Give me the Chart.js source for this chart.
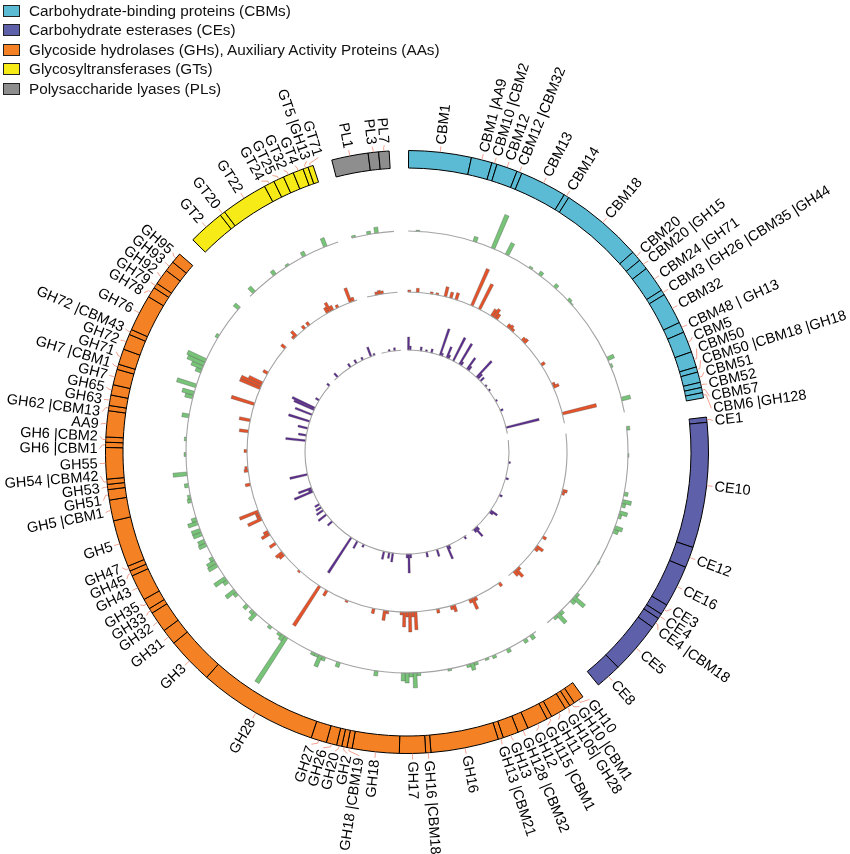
<!DOCTYPE html>
<html>
<head>
<meta charset="utf-8">
<script src="https://cdn.jsdelivr.net/npm/chart.js@4.4.1/dist/chart.umd.min.js"></script>
<style>
html,body{margin:0;padding:0;background:#fff;}
#wrap{position:relative;width:850px;height:854px;overflow:hidden;}
#c{position:absolute;left:0;top:0;}
#legend{position:absolute;left:3px;top:1px;font-family:"Liberation Sans",Arial,sans-serif;font-size:15.3px;color:#111;}
.li{display:flex;align-items:center;height:19.5px;white-space:nowrap;}
.sw{width:15px;height:10px;border:1px solid #222;margin-right:9px;}
</style>
</head>
<body>
<div id="wrap"><canvas id="c" width="850" height="854"></canvas><div id="legend"></div></div>
<script>
// ---------------- DATA ----------------
const groupLegend = ['Carbohydrate-binding proteins (CBMs)','Carbohydrate esterases (CEs)','Glycoside hydrolases (GHs), Auxiliary Activity Proteins (AAs)','Glycosyltransferases (GTs)','Polysaccharide lyases (PLs)'];
const groupColors = ['#5bbbd4','#5f60aa','#f48124','#f6eb16','#8e8e8e'];

const cbmFamilies = ['CBM1','CBM1 |AA9','CBM10 |CBM2','CBM12','CBM12 |CBM32','CBM13','CBM14','CBM18','CBM20','CBM20 |GH15','CBM24 |GH71','CBM3 |GH26 |CBM35 |GH44','CBM32','CBM48 | GH13','CBM5','CBM50','CBM50 |CBM18 |GH18','CBM51','CBM52','CBM57','CBM6 |GH128'];
const cbmCounts   = [12,4,1,4,1,9,1,16,2,2,5,1,6,2,4,3,1,2,1,1,1];
const ceFamilies  = ['CE1','CE10','CE12','CE16','CE3','CE4','CE4 |CBM18','CE5','CE8'];
const ceCounts    = [1,24,4,8,2,1,2,10,5];
const ghFamilies  = ['GH10','GH10 |CBM1','GH105| GH28','GH11','GH115 |CBM1','GH12','GH128 |CBM32','GH13','GH13 |CBM21','GH16','GH16 |CBM18','GH17','GH18','GH18 |CBM19','GH2','GH20','GH26','GH27','GH28','GH3','GH31','GH32','GH33','GH35','GH43','GH45','GH47','GH5','GH5 |CBM1','GH51','GH53','GH54 |CBM42','GH55','GH6 |CBM1','GH6 |CBM2','AA9','GH62 |CBM13','GH63','GH65','GH7','GH7 |CBM1','GH71','GH72','GH72 |CBM43','GH76','GH78','GH79','GH92','GH93','GH95'];
const ghCounts    = [2,1,1,3,1,4,2,3,1,13,1,5,9,1,1,1,2,3,23,9,3,4,1,2,5,1,1,9,4,2,1,1,6,1,1,5,1,2,2,3,1,3,3,1,7,2,1,3,2,2];
const gtFamilies  = ['GT2','GT20','GT22','GT24','GT25','GT32','GT4','GT5 |GH13','GT71'];
const gtCounts    = [7,1,9,2,2,2,2,1,1];
const plFamilies  = ['PL1','PL3','PL7'];
const plCounts    = [7,2,2];

// bar values per gene position inside each group: [position, value]
const greenCBM = [[2,1],[17,5],[22,36],[26,13],[33,2],[36,4],[41,4],[46,3],[47,1],[64,7],[66,2],[75,9]];
const greenCE  = [[0,3],[7,1],[17,4],[19,9],[20,4],[22,8],[23,3],[26,8],[27,5],[36,1],[46,3],[47,14],[48,5],[52,4],[53,12],[54,3]];
const greenGH  = [[1,5],[3,4],[8,4],[12,3],[14,2],[17,3],[18,7],[19,3],[24,2],[32,3],[33,15],[34,4],[35,10],[36,8],[43,5],[53,5],[57,4],[58,12],[59,3],[60,3],[68,54],[69,6],[70,3],[73,3],[78,9],[79,4],[81,5],[85,4],[86,11],[89,5],[90,13],[94,10],[95,9],[96,4],[100,8],[101,7],[103,9],[104,9],[106,10],[107,5],[112,4],[113,3],[116,4],[119,14],[124,2],[128,2],[134,7],[139,8],[140,12],[142,20],[146,6],[147,12],[148,18],[149,20],[156,3],[165,6]];
const greenGT  = [[1,7],[8,5],[12,2],[17,5],[23,9]];
const greenPL  = [[0,2],[4,3],[6,6]];

const redCBM = [[0,2],[3,4],[8,2],[10,2],[13,10],[15,6],[17,7],[23,40],[26,28],[31,8],[32,10],[33,6],[38,4],[39,5],[40,3],[45,4],[46,5],[56,4],[64,3],[65,6],[75,35]];
const redCE  = [[20,5],[21,3],[38,4],[42,8],[43,4],[52,3],[53,10],[54,6]];
const redGH  = [[0,4],[10,4],[11,12],[12,4],[18,7],[19,4],[24,4],[32,18],[33,5],[34,20],[35,5],[36,15],[37,3],[42,3],[43,10],[47,5],[57,2],[65,6],[68,47],[77,2],[85,6],[86,8],[90,7],[94,9],[95,5],[100,15],[101,4],[102,4],[103,20],[113,5],[118,4],[119,3],[125,3],[132,9],[136,11],[142,24],[148,22],[149,22],[150,15],[154,5],[165,5]];
const redGT  = [[0,3],[1,7],[5,4],[7,4],[15,6],[16,10],[17,5],[19,3],[24,15],[25,4]];
const redPL  = [[3,3],[4,4],[5,3]];

const purpleCBM = [[0,13],[1,4],[7,4],[10,2],[13,4],[18,28],[19,3],[22,12],[23,4],[26,26],[30,24],[31,4],[35,14],[36,5],[42,22],[43,6],[45,5],[49,2],[52,2],[59,2],[65,3],[75,34]];
const purpleCE  = [[12,2],[21,3],[31,3],[41,8],[42,4],[53,4],[54,11],[55,4]];
const purpleGH  = [[1,3],[11,4],[12,14],[18,7],[24,5],[33,4],[34,19],[35,4],[43,9],[45,6],[48,8],[60,3],[64,8],[68,42],[82,6],[87,10],[90,8],[92,6],[94,5],[102,20],[103,4],[104,14],[112,18],[131,20],[134,8],[138,10],[142,22],[146,18],[149,22],[150,25],[155,4],[165,3]];
const purpleGT  = [[2,5],[11,4],[15,4],[19,3],[24,10],[26,2]];
const purplePL  = [[4,2],[7,3]];

// ---------------- LAYOUT CONSTANTS ----------------
const START_DEG = 0.3, GAP_DEG = 3.7, R_MAX = 340;
const RING_IN = 284, RING_OUT = 301.5;
const BASE_GREEN = 221, BASE_RED = 160, BASE_PURPLE = 102;
const BAR_K = 1, LINE_HALF = 0.55, LABEL_SEP = 2.3;

const familyNames = [cbmFamilies, ceFamilies, ghFamilies, gtFamilies, plFamilies];
const familyCounts = [cbmCounts, ceCounts, ghCounts, gtCounts, plCounts];
const groupUnits = familyCounts.map(a => a.reduce((s, v) => s + v, 0));
const totalUnits = groupUnits.reduce((s, v) => s + v, 0);
const UNIT = (360 - GAP_DEG * groupUnits.length) / totalUnits;

// legend (HTML)
const lg = document.getElementById('legend');
groupLegend.forEach((t, i) => {
  const d = document.createElement('div'); d.className = 'li';
  const s = document.createElement('div'); s.className = 'sw'; s.style.background = groupColors[i];
  const tx = document.createElement('span'); tx.textContent = t;
  d.appendChild(s); d.appendChild(tx); lg.appendChild(d);
});

// outer ring
const ring = {data: [], angle: [], color: [], label: []};
familyNames.forEach((fams, g) => {
  fams.forEach((f, i) => { ring.data.push(RING_OUT); ring.angle.push(familyCounts[g][i] * UNIT); ring.color.push(groupColors[g]); ring.label.push(f); });
  ring.data.push(0); ring.angle.push(GAP_DEG); ring.color.push('rgba(0,0,0,0)'); ring.label.push('');
});
function baseline(r) {
  const d = [], a = [];
  groupUnits.forEach(n => { d.push(r + LINE_HALF); a.push(n * UNIT); d.push(0); a.push(GAP_DEG); });
  return {data: d, angle: a};
}
function bars(series, r) {
  const d = [], a = [];
  series.forEach((pairs, g) => {
    const vals = new Array(groupUnits[g]).fill(0);
    pairs.forEach(([i, v]) => { vals[i] = v; });
    vals.forEach(v => { d.push(v > 0 ? r + v * BAR_K : 0); a.push(UNIT); });
    d.push(0); a.push(GAP_DEG);
  });
  return {data: d, angle: a};
}
const blG = baseline(BASE_GREEN), blR = baseline(BASE_RED), blP = baseline(BASE_PURPLE);
const bG = bars([greenCBM, greenCE, greenGH, greenGT, greenPL], BASE_GREEN);
const bR = bars([redCBM, redCE, redGH, redGT, redPL], BASE_RED);
const bP = bars([purpleCBM, purpleCE, purpleGH, purpleGT, purplePL], BASE_PURPLE);

function barSet(label, s, base, color) {
  return {label, data: s.data, angle: c => s.angle[c.dataIndex], backgroundColor: color,
    borderColor: 'rgba(70,70,70,0.55)', borderWidth: c => (s.data[c.dataIndex] > 0 ? 0.6 : 0), innerValue: base};
}
function lineSet(label, s, base) {
  return {label, data: s.data, angle: c => s.angle[c.dataIndex], backgroundColor: '#a3a3a3', borderWidth: 0, innerValue: base - LINE_HALF};
}

const innerRadiusPlugin = {
  id: 'innerRadius',
  afterDatasetUpdate(chart, args) {
    const ds = chart.data.datasets[args.index];
    if (ds.innerValue === undefined) return;
    const rIn = chart.scales.r.getDistanceFromCenterForValue(ds.innerValue);
    args.meta.data.forEach(el => { if (el.outerRadius > rIn) el.innerRadius = rIn; });
  }
};

const labelPlugin = {
  id: 'ringLabels',
  afterDatasetsDraw(chart) {
    const ctx = chart.ctx, scale = chart.scales.r;
    const cx = scale.xCenter, cy = scale.yCenter;
    const meta = chart.getDatasetMeta(0);
    const items = [];
    meta.data.forEach((el, i) => {
      if (!ring.label[i]) return;
      const mid = (el.startAngle + el.endAngle) / 2;
      items.push({name: ring.label[i], a: mid, la: mid});
    });
    const sep = LABEL_SEP * Math.PI / 180;
    for (let it = 0; it < 2000; it++) {
      let moved = false;
      for (let i = 1; i < items.length; i++) {
        const d = items[i].la - items[i - 1].la;
        if (d < sep - 1e-6) { const s = (sep - d) / 2; items[i - 1].la -= s; items[i].la += s; moved = true; }
      }
      if (!moved) break;
    }
    const r0 = scale.getDistanceFromCenterForValue(RING_OUT);
    const r1 = r0 + 0.5, r2 = r0 + 3, r3 = r0 + 6, r4 = r0 + 8;
    ctx.save();
    ctx.strokeStyle = '#f08a74'; ctx.lineWidth = 0.8;
    ctx.font = '14.5px "Liberation Sans", Arial, sans-serif';
    ctx.fillStyle = '#000'; ctx.textBaseline = 'middle';
    items.forEach(o => {
      ctx.beginPath();
      ctx.moveTo(cx + r1 * Math.cos(o.a), cy + r1 * Math.sin(o.a));
      ctx.lineTo(cx + r2 * Math.cos(o.a), cy + r2 * Math.sin(o.a));
      ctx.lineTo(cx + r3 * Math.cos(o.la), cy + r3 * Math.sin(o.la));
      ctx.stroke();
      let deg = (o.la * 180 / Math.PI + 90) % 360; if (deg < 0) deg += 360;
      ctx.save();
      ctx.translate(cx + r4 * Math.cos(o.la), cy + r4 * Math.sin(o.la));
      if (deg < 180) { ctx.rotate(o.la); ctx.textAlign = 'left'; }
      else { ctx.rotate(o.la + Math.PI); ctx.textAlign = 'right'; }
      ctx.fillText(o.name, 0, 0.5);
      ctx.restore();
    });
    ctx.restore();
  }
};

new Chart(document.getElementById('c'), {
  type: 'polarArea',
  data: {
    datasets: [
      {label: 'families', data: ring.data, angle: c => ring.angle[c.dataIndex], backgroundColor: ring.color,
        borderColor: '#000', borderWidth: c => (ring.data[c.dataIndex] > 0 ? 1 : 0), innerValue: RING_IN},
      lineSet('base green', blG, BASE_GREEN),
      lineSet('base red', blR, BASE_RED),
      lineSet('base purple', blP, BASE_PURPLE),
      barSet('green', bG, BASE_GREEN, '#77c378'),
      barSet('red', bR, BASE_RED, '#e5532b'),
      barSet('purple', bP, BASE_PURPLE, '#5d2c91')
    ]
  },
  options: {
    responsive: false,
    animation: false,
    events: [],
    layout: {padding: {left: 67, right: 103, top: 112, bottom: 62}},
    plugins: {legend: {display: false}, tooltip: {enabled: false}},
    scales: {r: {display: false, min: 0, max: R_MAX, startAngle: START_DEG}}
  },
  plugins: [innerRadiusPlugin, labelPlugin]
});
</script>
</body>
</html>
